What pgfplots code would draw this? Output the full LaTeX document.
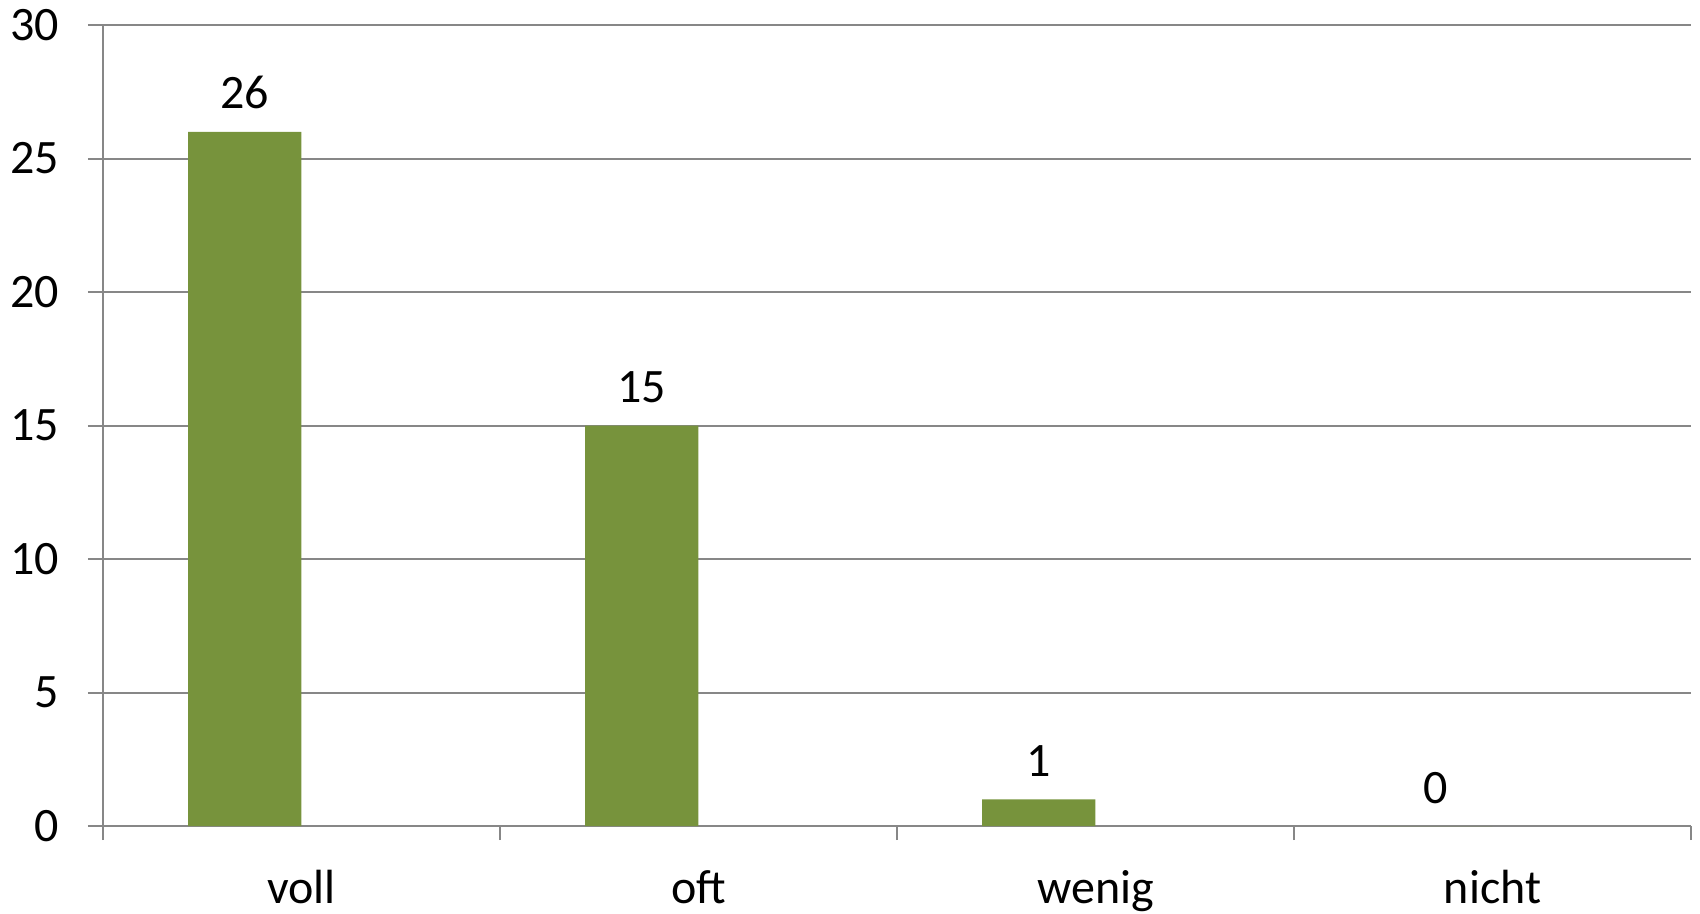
\documentclass[border=0pt]{standalone}
\usepackage{fontspec}
\setmainfont{Carlito}
\usepackage{pgfplots}
\pgfplotsset{compat=1.18}
\usetikzlibrary{calc}
\definecolor{barg}{HTML}{77933C}
\definecolor{gridc}{HTML}{878787}
\begin{document}
\begin{tikzpicture}
\begin{axis}[
 scale only axis, width=397pt, height=200.25pt,
 xmin=-0.5, xmax=3.5, ymin=0, ymax=30,
 axis lines=left, axis line style={gridc, line width=0.5pt, -},
 ytick={0,5,...,30}, ymajorgrids, grid style={gridc, line width=0.5pt},
 xtick={0,1,2,3}, xticklabels={voll,oft,wenig,nicht},
 minor xtick={-0.5,0.5,1.5,2.5,3.5},
 major x tick style={draw=none},
 minor x tick style={gridc, line width=0.5pt},
 y tick style={gridc, line width=0.5pt},
 tick align=outside, major tick length=3.75pt, minor tick length=3.5pt,
 font=\fontsize{12}{14}\selectfont,
 tick label style={font=\fontsize{12}{14}\selectfont, black},
 yticklabel style={xshift=-3.8pt},
 xticklabel style={yshift=-3.8pt},
 /pgf/number format/assume math mode=true,
 clip=false,
]
\addplot[ybar, fill=barg, draw=none, bar width=0.2857, bar shift=-0.1429,
  nodes near coords,
  nodes near coords style={font=\fontsize{12}{14}\selectfont, black, anchor=south, yshift=2.1pt, xshift=-14.18pt}]
  coordinates {(0,26) (1,15) (2,1) (3,0)};
\coordinate (bl) at (rel axis cs:0,0);
\coordinate (tr) at (rel axis cs:1,1);
\end{axis}
\pgfresetboundingbox
\path ($(bl)+(-25.75pt,-21.75pt)$) rectangle ($(tr)+(2.25pt,6.25pt)$);
\end{tikzpicture}
\end{document}
